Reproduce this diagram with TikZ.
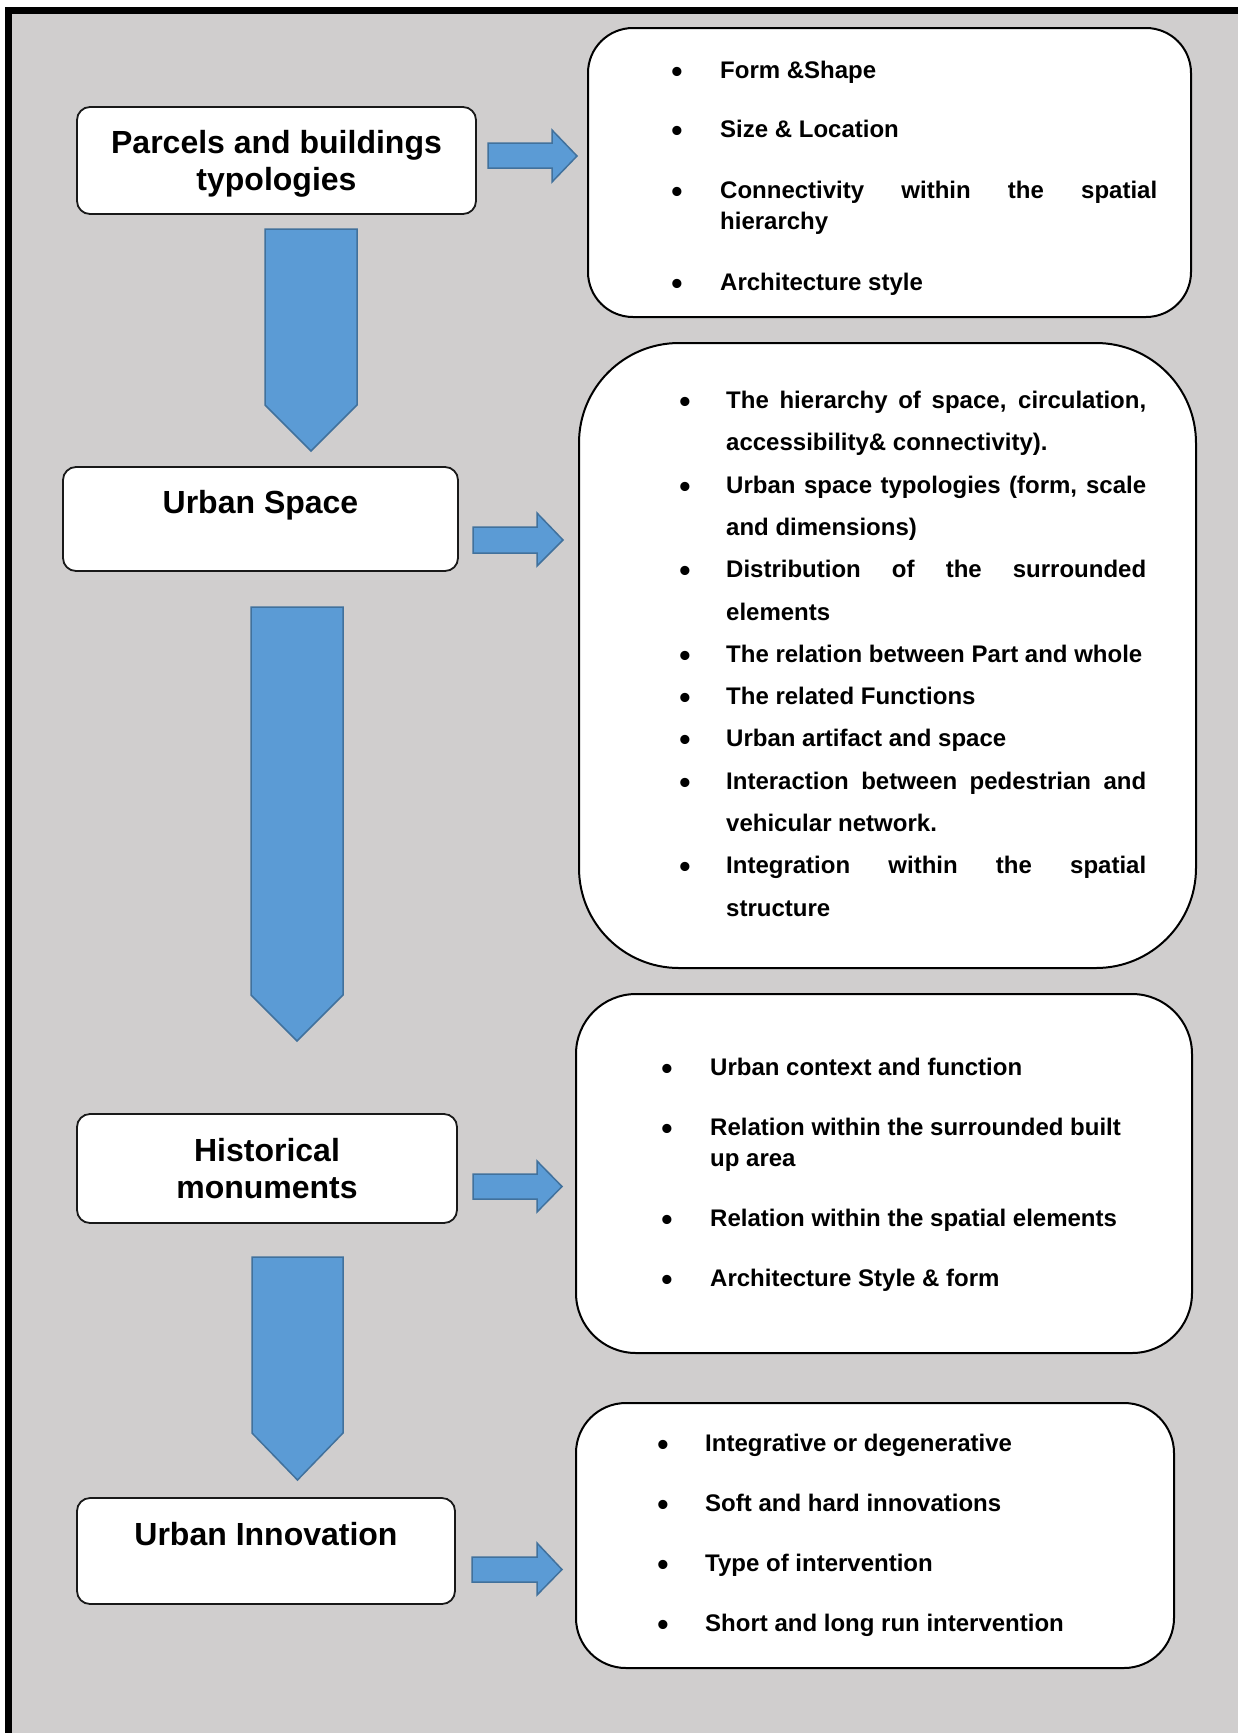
\documentclass[tikz,border=0pt]{standalone}
\usepackage{fontspec}
\setmainfont{Liberation Sans}
\definecolor{bg}{HTML}{D0CECE}
\definecolor{arrfill}{HTML}{5B9BD5}
\definecolor{arrline}{HTML}{41719C}
\begin{document}
\begin{tikzpicture}[x=1pt,y=-1pt,
  titlebox/.style={draw=black!90, line width=1.8pt, fill=white, rounded corners=13pt, inner sep=0pt},
  listbox/.style={draw=black, line width=2pt, fill=white, inner sep=0pt},
  blockarrow/.style={fill=arrfill, draw=arrline, line width=1.5pt, line join=miter},
  ttl/.style={anchor=base, inner sep=0pt, font=\fontsize{32}{37}\selectfont\bfseries},
  txt/.style={anchor=base west, inner sep=0pt, font=\fontsize{24}{28}\selectfont\bfseries},
  bul/.style={anchor=base, inner sep=0pt, yshift=-4.5pt, font=\fontsize{32}{36}\selectfont\bfseries}]
\useasboundingbox (0,0) rectangle (1238,1733);
% frame
\fill[white] (0,0) rectangle (1238,1733);
\fill[bg] (8,10) rectangle (1238,1733);
\draw[line width=7pt, line join=miter] (8,1745) -- (8,10) -- (1250,10);

% left title boxes
\node[titlebox, minimum width=399pt, minimum height=107pt] (b1) at (276.5,160.5) {};
\node[titlebox, minimum width=395pt, minimum height=104pt] (b2) at (260.5,519) {};
\node[titlebox, minimum width=380pt, minimum height=109pt] (b3) at (267,1168.5) {};
\node[titlebox, minimum width=378pt, minimum height=106pt] (b4) at (266,1551) {};

\node[ttl] (t1a) at (276.5,153) {Parcels and buildings};
\node[ttl] (t1b) at (276.5,190) {typologies};
\node[ttl] (t2) at (260.5,513) {Urban Space};
\node[ttl] (t3a) at (267,1161) {Historical};
\node[ttl] (t3b) at (267,1198) {monuments};
\node[ttl] (t4) at (266,1545) {Urban Innovation};

% right list boxes
\node[listbox, rounded corners=45pt, minimum width=603pt, minimum height=289pt] (r1) at (889.5,172.5) {};
\node[listbox, rounded corners=100pt, minimum width=617pt, minimum height=625pt] (r2) at (887.5,655.5) {};
\node[listbox, rounded corners=60pt, minimum width=616pt, minimum height=359pt] (r3) at (884,1173.5) {};
\node[listbox, rounded corners=50pt, minimum width=598pt, minimum height=265pt] (r4) at (875,1535.5) {};

% down block arrows
\draw[blockarrow] (265,229) -- (357,229) -- (357,405) -- (311,451) -- (265,405) -- cycle;
\draw[blockarrow] (251,607) -- (343,607) -- (343,995) -- (297,1041) -- (251,995) -- cycle;
\draw[blockarrow] (252,1257) -- (343,1257) -- (343,1433) -- (297.5,1480) -- (252,1433) -- cycle;

% right block arrows
\draw[blockarrow] (488,143) -- (552,143) -- (552,130) -- (577,156) -- (552,182) -- (552,168) -- (488,168) -- cycle;
\draw[blockarrow] (473,527) -- (537,527) -- (537,513) -- (563,540) -- (537,566) -- (537,553) -- (473,553) -- cycle;
\draw[blockarrow] (473,1174) -- (537,1174) -- (537,1161) -- (562,1186.5) -- (537,1212) -- (537,1199) -- (473,1199) -- cycle;
\draw[blockarrow] (472,1557) -- (537,1557) -- (537,1543) -- (562,1569.5) -- (537,1595) -- (537,1582) -- (472,1582) -- cycle;

% box 1 list
\node[bul] (p1a) at (677,78) {•};
\node[txt] (q1a) at (720,78) {Form \&Shape};
\node[bul] (p1b) at (677,137) {•};
\node[txt] (q1b) at (720,137) {Size \& Location};
\node[bul] (p1c) at (677,198) {•};
\node[txt] (q1c) at (720,198) {\makebox[437pt][s]{Connectivity within the spatial}};
\node[txt] (q1d) at (720,229) {hierarchy};
\node[bul] (p1e) at (677,290) {•};
\node[txt] (q1e) at (720,290) {Architecture style};

% box 2 list
\node[bul] (p2a) at (685,408) {•};
\node[txt] (q2a) at (726,408) {\makebox[420pt][s]{The hierarchy of space, circulation,}};
\node[txt] (q2b) at (726,450) {accessibility\& connectivity).};
\node[bul] (p2c) at (685,493) {•};
\node[txt] (q2c) at (726,493) {\makebox[420pt][s]{Urban space typologies (form, scale}};
\node[txt] (q2d) at (726,535) {and dimensions)};
\node[bul] (p2e) at (685,577) {•};
\node[txt] (q2e) at (726,577) {\makebox[420pt][s]{Distribution of the surrounded}};
\node[txt] (q2f) at (726,620) {elements};
\node[bul] (p2g) at (685,662) {•};
\node[txt] (q2g) at (726,662) {The relation between Part and whole};
\node[bul] (p2h) at (685,704) {•};
\node[txt] (q2h) at (726,704) {The related Functions};
\node[bul] (p2i) at (685,746) {•};
\node[txt] (q2i) at (726,746) {Urban artifact and space};
\node[bul] (p2j) at (685,789) {•};
\node[txt] (q2j) at (726,789) {\makebox[420pt][s]{Interaction between pedestrian and}};
\node[txt] (q2k) at (726,831) {vehicular network.};
\node[bul] (p2l) at (685,873) {•};
\node[txt] (q2l) at (726,873) {\makebox[420pt][s]{Integration within the spatial}};
\node[txt] (q2m) at (726,916) {structure};

% box 3 list
\node[bul] (p3a) at (667,1075) {•};
\node[txt] (q3a) at (710,1075) {Urban context and function};
\node[bul] (p3b) at (667,1135) {•};
\node[txt] (q3b) at (710,1135) {Relation within the surrounded built};
\node[txt] (q3c) at (710,1166) {up area};
\node[bul] (p3d) at (667,1226) {•};
\node[txt] (q3d) at (710,1226) {Relation within the spatial elements};
\node[bul] (p3e) at (667,1286) {•};
\node[txt] (q3e) at (710,1286) {Architecture Style \& form};

% box 4 list
\node[bul] (p4a) at (663,1451) {•};
\node[txt] (q4a) at (705,1451) {Integrative or degenerative};
\node[bul] (p4b) at (663,1511) {•};
\node[txt] (q4b) at (705,1511) {Soft and hard innovations};
\node[bul] (p4c) at (663,1571) {•};
\node[txt] (q4c) at (705,1571) {Type of intervention};
\node[bul] (p4d) at (663,1631) {•};
\node[txt] (q4d) at (705,1631) {Short and long run intervention};
\end{tikzpicture}
\end{document}
